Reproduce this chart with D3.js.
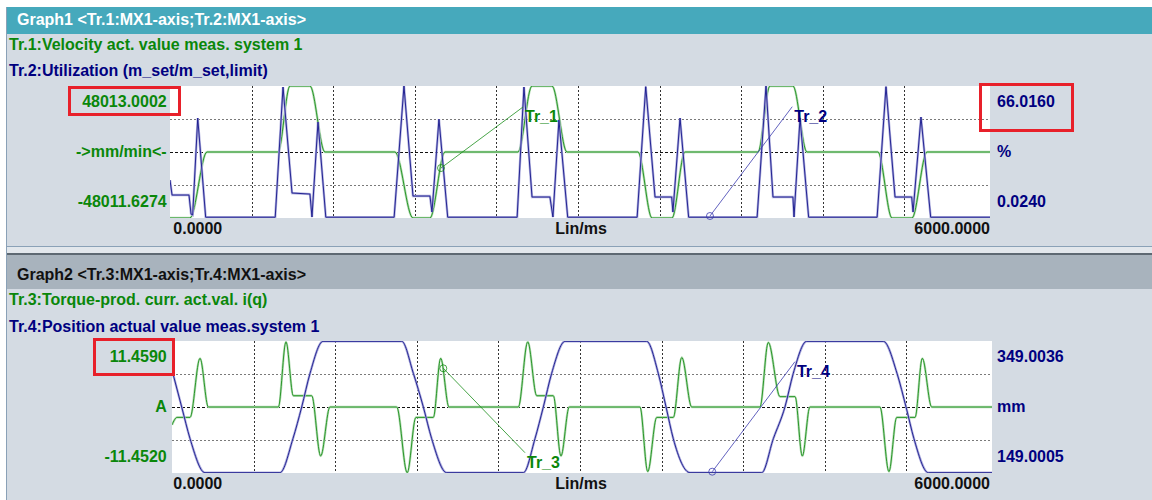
<!DOCTYPE html>
<html>
<head>
<meta charset="utf-8">
<script src="https://cdn.jsdelivr.net/npm/d3@7"></script>
<style>
  html, body { margin: 0; padding: 0; background: #fff; }
  svg { display: block; }
  text { font-family: "Liberation Sans", Arial, sans-serif; font-weight: bold; font-size: 16px; }
</style>
</head>
<body>
<svg id="chart" width="1152" height="500"></svg>
<script>
/**
 * Trace screen - two graphs, two traces each
 */

// time axis (ms)
var timeDomain = [0, 6000];
var timeLabels = ['0.0000', 'Lin/ms', '6000.0000'];
var gridStepMs = 597;

// Graph1
var graph1Title = 'Graph1 <Tr.1:MX1-axis;Tr.2:MX1-axis>';
var graph1Traces = ['Tr.1:Velocity act. value meas. system 1', 'Tr.2:Utilization (m_set/m_set,limit)'];
var graph1Left = ['48013.0002', '->mm/min<-', '-48011.6274'];
var graph1Right = ['66.0160', '%', '0.0240'];

// Tr.1 velocity [ms, mm/min]
var tr1Velocity = [[0, -48000], [146, -48000], [271, 0], [790, 0], [878, 48000], [1024, 48000], [1134, 0],
    [1646, 0], [1778, -48000], [1902, -48000], [2012, 0], [2546, 0], [2649, 48000], [2795, 48000], [2905, 0],
    [3424, 0], [3527, -48000], [3673, -48000], [3768, 0], [4302, 0], [4390, 48000], [4558, 48000], [4661, 0],
    [5180, 0], [5283, -48000], [5429, -48000], [5539, 0], [6000, 0]];

// Tr.2 utilization [ms, %]
var tr2Utilization = [[0, 19], [15, 11.5], [139, 11.5], [154, 2], [166, 1.5], [203, 50], [261, 0.4],
    [770, 0.4], [827, 65.5], [893, 12.5], [1024, 12], [1039, 0.5], [1083, 48], [1140, 0.4],
    [1640, 0.4], [1712, 66], [1778, 11], [1902, 11], [1917, 3], [1968, 49.5], [2032, 0.4],
    [2540, 0.4], [2590, 65.5], [2649, 10.5], [2780, 10.5], [2802, 0.5], [2846, 49], [2910, 0.4],
    [3418, 0.4], [3481, 65.7], [3549, 10.5], [3671, 10.5], [3680, 3], [3732, 50], [3795, 0.4],
    [4296, 0.4], [4361, 66], [4412, 10.5], [4558, 10.5], [4566, 0.5], [4610, 50], [4673, 0.4],
    [5174, 0.4], [5239, 65.7], [5305, 10.5], [5427, 10.5], [5437, 3], [5495, 50.5], [5566, 0.4],
    [6000, 0.4]];

// Graph2
var graph2Title = 'Graph2 <Tr.3:MX1-axis;Tr.4:MX1-axis>';
var graph2Traces = ['Tr.3:Torque-prod. curr. act.val. i(q)', 'Tr.4:Position actual value meas.system 1'];
var graph2Left = ['11.4590', 'A', '-11.4520'];
var graph2Right = ['349.0036', 'mm', '149.0005'];

// Tr.3 current [ms, A]
var tr3Current = [[0, -3.1], [37, -1.8], [132, -1.8], [205, 8.45], [266, 0],
    [778, 0], [834, 11.3], [888, 1.96], [1022, 1.96], [1088, -8.5], [1156, 0],
    [1644, 0], [1721, -11.4], [1785, -1.8], [1912, -1.8], [1966, 8.45], [2027, 0],
    [2534, 0], [2603, 11.3], [2669, 1.96], [2790, 1.96], [2846, -8.5], [2907, 0],
    [3424, 0], [3481, -11.2], [3547, -1.8], [3668, -1.8], [3730, 8.6], [3803, 0],
    [4302, 0], [4363, 11.2], [4449, 1.8], [4559, 1.8], [4612, -8.5], [4668, 0],
    [5180, 0], [5246, -11.2], [5303, -1.8], [5437, -1.8], [5490, 8.45], [5559, 0],
    [6000, 0]];

// Tr.4 position [ms, mm]
var tr4Position = [[0, 305], [71, 249], [132, 201], [241, 149.5],
    [790, 149.5], [885, 201], [949, 249], [1010, 300], [1105, 348.5],
    [1681, 348.5], [1766, 300], [1839, 249], [1900, 201], [2010, 149.5],
    [2571, 149.5], [2656, 201], [2717, 249], [2778, 300], [2876, 348.5],
    [3473, 348.5], [3558, 300], [3615, 249], [3668, 201], [3790, 149.5],
    [4315, 149.5], [4400, 201], [4485, 249], [4546, 300], [4644, 348.5],
    [5205, 348.5], [5305, 300], [5371, 249], [5429, 201], [5534, 149.5],
    [6000, 149.5]];

var textGreen = '#0a870a';
var textNavy = '#000080';
var lineGreen = '#1a8e1a';
var lineBlue = '#14148a';
var panelBg = '#d4dbe3';

var svg = d3.select('#chart');

svg.append('rect').attr('width', 1152).attr('height', 500).attr('fill', '#fff');

// panels & separator
svg.append('rect').attr('x', 6).attr('y', 7).attr('width', 1146).attr('height', 240).attr('fill', panelBg);
svg.append('rect').attr('x', 6).attr('y', 7).attr('width', 1146).attr('height', 27).attr('fill', '#46a9bc');
svg.append('line').attr('x1', 6).attr('x2', 1152).attr('y1', 246.5).attr('y2', 246.5).attr('stroke', '#8aa1b7');
svg.append('rect').attr('x', 6).attr('y', 247).attr('width', 1146).attr('height', 6).attr('fill', '#e2e7ec');
svg.append('rect').attr('x', 6).attr('y', 253).attr('width', 1146).attr('height', 2).attr('fill', '#5d6872');
svg.append('rect').attr('x', 6).attr('y', 255).attr('width', 1146).attr('height', 245).attr('fill', panelBg);
svg.append('rect').attr('x', 6).attr('y', 255).attr('width', 1146).attr('height', 34).attr('fill', '#a8b3bd');
svg.append('line').attr('x1', 6.5).attr('x2', 6.5).attr('y1', 7).attr('y2', 500).attr('stroke', '#8aa1b7');

var graphs = [
    {
        id: 'g1', title: graph1Title, titleColor: '#fff', titleY: 25,
        traces: graph1Traces, traceY: [49.5, 75.5],
        plot: { x: 170, y: 86, w: 820, h: 132 },
        leftLabels: graph1Left, rightLabels: graph1Right,
        leftSeries: tr1Velocity, leftCurve: d3.curveMonotoneX,
        rightSeries: tr2Utilization, rightCurve: d3.curveLinear,
        boxes: [[69.5, 87.5, 110, 27], [980.5, 84.5, 92, 46]],
        notes: [
            { name: 'Tr_1', side: 'left', at: [1983, -11639], to: [2583, 32736] },
            { name: 'Tr_2', side: 'right', at: [3951, 1.02], to: [4553, 55.67] }
        ]
    },
    {
        id: 'g2', title: graph2Title, titleColor: '#111', titleY: 279.5,
        traces: graph2Traces, traceY: [305, 331.5],
        plot: { x: 172, y: 341, w: 820, h: 132 },
        leftLabels: graph2Left, rightLabels: graph2Right,
        leftSeries: tr3Current, leftCurve: d3.curveMonotoneX,
        rightSeries: tr4Position, rightCurve: d3.curveMonotoneX,
        boxes: [[94.5, 339.5, 79, 35]],
        notes: [
            { name: 'Tr_3', side: 'left', at: [1985, 6.72], to: [2583, -7.93] },
            { name: 'Tr_4', side: 'right', at: [3953, 150.97], to: [4558, 317.64] }
        ]
    }
];

graphs.forEach(function(g) {
    var p = g.plot;
    var x = d3.scaleLinear().domain(timeDomain).range([p.x, p.x + p.w]);
    var yL = d3.scaleLinear()
        .domain([parseFloat(g.leftLabels[2]), parseFloat(g.leftLabels[0])])
        .range([p.y + p.h, p.y]);
    var yR = d3.scaleLinear()
        .domain([parseFloat(g.rightLabels[2]), parseFloat(g.rightLabels[0])])
        .range([p.y + p.h, p.y]);
    var yFrac = d3.scaleLinear().domain([0, 1]).range([p.y + p.h, p.y]);

    // header + trace names
    svg.append('text').attr('x', 17).attr('y', g.titleY).attr('fill', g.titleColor).text(g.title);
    svg.append('text').attr('x', 9).attr('y', g.traceY[0]).attr('fill', textGreen).text(g.traces[0]);
    svg.append('text').attr('x', 9).attr('y', g.traceY[1]).attr('fill', textNavy).text(g.traces[1]);

    // plot area
    svg.append('rect').attr('x', p.x).attr('y', p.y).attr('width', p.w).attr('height', p.h).attr('fill', '#fff');
    svg.append('clipPath').attr('id', 'clip-' + g.id)
        .append('rect').attr('x', p.x).attr('y', p.y).attr('width', p.w).attr('height', p.h);

    // grid
    var vTicks = d3.range(1, 10).map(function(i) { return i * gridStepMs; });
    svg.append('g').selectAll('line').data(vTicks).enter().append('line')
        .attr('x1', function(d) { return Math.round(x(d)) + 0.5; })
        .attr('x2', function(d) { return Math.round(x(d)) + 0.5; })
        .attr('y1', p.y).attr('y2', p.y + p.h)
        .attr('stroke', '#333').attr('stroke-dasharray', '2,2');
    svg.append('g').selectAll('line').data([0.25, 0.5, 0.75]).enter().append('line')
        .attr('x1', p.x).attr('x2', p.x + p.w)
        .attr('y1', function(d) { return Math.round(yFrac(d)) + 0.5; })
        .attr('y2', function(d) { return Math.round(yFrac(d)) + 0.5; })
        .attr('stroke', function(d) { return d === 0.5 ? '#111' : '#7a7a7a'; })
        .attr('stroke-dasharray', function(d) { return d === 0.5 ? '3,2' : '2,2'; });

    // traces
    var traces = [
        { data: g.leftSeries, y: yL, curve: g.leftCurve, color: lineGreen, halo: '#b6dcb6' },
        { data: g.rightSeries, y: yR, curve: g.rightCurve, color: lineBlue, halo: '#b0b0de' }
    ];
    var plotG = svg.append('g').attr('clip-path', 'url(#clip-' + g.id + ')');
    traces.forEach(function(t) {
        var line = d3.line()
            .x(function(d) { return x(d[0]); })
            .y(function(d) { return t.y(d[1]); })
            .curve(t.curve);
        plotG.append('path').attr('d', line(t.data)).attr('fill', 'none')
            .attr('stroke', t.halo).attr('stroke-width', 2.4);
        plotG.append('path').attr('d', line(t.data)).attr('fill', 'none')
            .attr('stroke', t.color).attr('stroke-width', 0.9);
    });

    // trace tags
    g.notes.forEach(function(n) {
        var ys = n.side === 'left' ? yL : yR;
        var col = n.side === 'left' ? lineGreen : '#3a3aae';
        var ax = x(n.at[0]), ay = ys(n.at[1]);
        var bx = x(n.to[0]), by = ys(n.to[1]);
        svg.append('line').attr('x1', ax).attr('y1', ay).attr('x2', bx).attr('y2', by)
            .attr('stroke', col).attr('stroke-width', 0.8);
        svg.append('circle').attr('cx', ax).attr('cy', ay).attr('r', 3.5)
            .attr('fill', 'none').attr('stroke', col).attr('stroke-width', 0.8);
        svg.append('text').attr('x', bx + 2).attr('y', by + 15)
            .attr('fill', n.side === 'left' ? textGreen : textNavy).text(n.name);
    });

    // y labels
    var labelDy = [21, 71, 121];
    g.leftLabels.forEach(function(l, i) {
        svg.append('text').attr('x', 166.7).attr('y', p.y + labelDy[i])
            .attr('text-anchor', 'end').attr('fill', textGreen).text(l);
    });
    g.rightLabels.forEach(function(l, i) {
        svg.append('text').attr('x', 997).attr('y', p.y + labelDy[i])
            .attr('fill', textNavy).text(l);
    });

    // x labels
    var xb = p.y + p.h + 16;
    svg.append('text').attr('x', 173.3).attr('y', xb).attr('fill', '#111').text(timeLabels[0]);
    svg.append('text').attr('x', 581).attr('y', xb).attr('text-anchor', 'middle').attr('fill', '#111').text(timeLabels[1]);
    svg.append('text').attr('x', 990).attr('y', xb).attr('text-anchor', 'end').attr('fill', '#111').text(timeLabels[2]);

    // red highlight frames
    svg.append('g').selectAll('rect').data(g.boxes).enter().append('rect')
        .attr('x', function(d) { return d[0]; }).attr('y', function(d) { return d[1]; })
        .attr('width', function(d) { return d[2]; }).attr('height', function(d) { return d[3]; })
        .attr('fill', 'none').attr('stroke', '#e8202a').attr('stroke-width', 3);
});
</script>
</body>
</html>
